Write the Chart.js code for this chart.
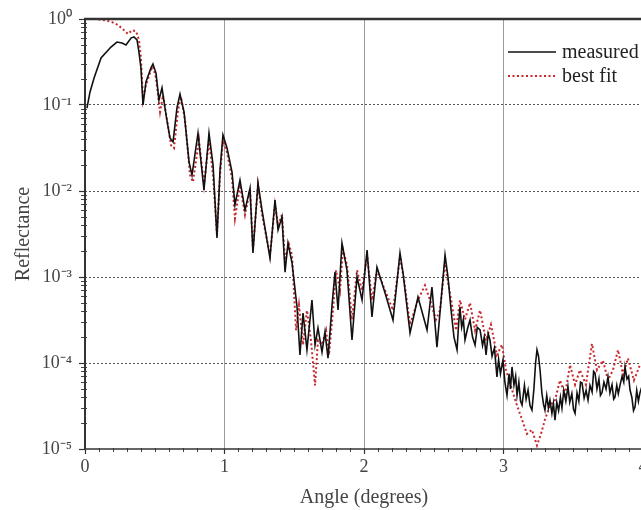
<!DOCTYPE html>
<html>
<head>
<meta charset="utf-8">
<script src="https://cdn.jsdelivr.net/npm/chart.js@4.4.1/dist/chart.umd.min.js"></script>
<style>
html,body{margin:0;padding:0;background:#fff;overflow:hidden;width:641px;height:510px;}
#wrap{position:relative;width:650px;height:510px;}
</style>
</head>
<body>
<div id="wrap"><canvas id="c" width="650" height="510"></canvas></div>
<script>
// Angle (degrees) and reflectance of the measured curve
const measuredAngle = [0.014,0.036,0.065,0.115,0.186,0.229,0.265,0.294,0.330,0.351,0.373,0.387,0.401,0.416,0.437,0.473,0.487,0.509,0.530,0.552,0.581,0.609,0.631,0.659,0.681,0.710,0.746,0.767,0.810,0.853,0.889,0.918,0.946,0.968,0.989,1.018,1.054,1.075,1.111,1.147,1.183,1.204,1.240,1.269,1.326,1.362,1.384,1.412,1.434,1.455,1.484,1.520,1.541,1.563,1.591,1.627,1.649,1.670,1.699,1.720,1.742,1.771,1.792,1.814,1.842,1.878,1.914,1.950,1.986,2.022,2.057,2.093,2.151,2.208,2.258,2.280,2.330,2.387,2.452,2.487,2.523,2.581,2.602,2.625,2.645,2.667,2.678,2.688,2.700,2.712,2.724,2.742,2.760,2.778,2.796,2.812,2.832,2.850,2.862,2.875,2.890,2.903,2.918,2.935,2.953,2.965,2.978,2.996,3.010,3.025,3.040,3.050,3.061,3.075,3.087,3.097,3.110,3.122,3.133,3.150,3.162,3.176,3.190,3.204,3.218,3.230,3.240,3.251,3.262,3.275,3.287,3.297,3.310,3.322,3.333,3.347,3.358,3.369,3.382,3.395,3.408,3.419,3.432,3.447,3.462,3.475,3.490,3.502,3.513,3.527,3.540,3.552,3.563,3.578,3.592,3.606,3.620,3.635,3.646,3.656,3.670,3.684,3.695,3.706,3.720,3.735,3.749,3.763,3.778,3.790,3.799,3.812,3.823,3.835,3.850,3.862,3.871,3.885,3.897,3.907,3.920,3.932,3.943,3.955,3.967,3.978,3.995];
const measuredValue = [0.092,0.142,0.206,0.352,0.472,0.54,0.526,0.50,0.60,0.62,0.57,0.41,0.27,0.10,0.185,0.27,0.30,0.235,0.114,0.158,0.0765,0.0413,0.0371,0.092,0.134,0.083,0.0217,0.0153,0.047,0.0103,0.047,0.020,0.00284,0.0175,0.0448,0.0316,0.0166,0.00687,0.0134,0.0060,0.0108,0.0019,0.0124,0.0060,0.00166,0.00785,0.00352,0.005,0.00114,0.00248,0.00146,0.000448,0.000124,0.00038,0.000142,0.00054,0.000162,0.000255,0.000134,0.000229,0.000114,0.000472,0.00114,0.000413,0.00248,0.0012,0.000185,0.001,0.00054,0.00206,0.000343,0.0013,0.00065,0.000316,0.0019,0.00111,0.000223,0.000585,0.000242,0.000765,0.000153,0.0018,0.001,0.00040,0.00020,0.000142,0.00028,0.000448,0.00026,0.00032,0.000185,0.00025,0.000316,0.00020,0.000162,0.00026,0.000242,0.00016,0.00020,0.000124,0.00022,0.000185,0.00012,0.00015,0.000069,0.00011,0.000075,0.000108,0.000060,0.000042,0.000075,0.000050,0.000090,0.000055,0.000070,0.000042,0.000060,0.000036,0.0000325,0.000055,0.000038,0.0000485,0.000032,0.0000284,0.000050,0.00010,0.000142,0.00012,0.000083,0.000045,0.000033,0.0000284,0.000042,0.000030,0.000037,0.000026,0.000034,0.0000217,0.000035,0.000028,0.000040,0.000030,0.000048,0.000036,0.000053,0.000035,0.000044,0.000029,0.000026,0.000045,0.000036,0.000060,0.0000585,0.000039,0.000048,0.000037,0.000055,0.000046,0.000080,0.0000765,0.000050,0.000065,0.000042,0.000045,0.000060,0.000050,0.000069,0.000045,0.000056,0.000038,0.000040,0.000055,0.000044,0.000055,0.000070,0.000060,0.000090,0.000065,0.000070,0.0000485,0.000040,0.000028,0.000031,0.000048,0.000036,0.000045,0.000055];

// Angle (degrees) and reflectance of the best fit curve
const fitAngle = [0.0,0.072,0.143,0.194,0.237,0.28,0.308,0.337,0.366,0.387,0.401,0.416,0.437,0.473,0.487,0.509,0.538,0.559,0.588,0.617,0.638,0.667,0.688,0.717,0.753,0.774,0.817,0.853,0.889,0.918,0.946,0.968,0.989,1.018,1.054,1.075,1.111,1.147,1.183,1.204,1.240,1.269,1.326,1.362,1.384,1.412,1.434,1.462,1.484,1.513,1.534,1.563,1.591,1.620,1.649,1.670,1.699,1.728,1.749,1.778,1.799,1.828,1.849,1.878,1.914,1.950,1.986,2.022,2.057,2.093,2.151,2.208,2.258,2.287,2.330,2.387,2.437,2.473,2.516,2.545,2.581,2.602,2.631,2.660,2.688,2.724,2.760,2.796,2.832,2.875,2.910,2.953,2.989,3.018,3.061,3.097,3.133,3.168,3.204,3.240,3.269,3.297,3.333,3.369,3.405,3.441,3.477,3.513,3.548,3.591,3.634,3.670,3.713,3.749,3.785,3.821,3.857,3.892,3.935,3.978];
const fitValue = [1.0,1.0,0.97,0.92,0.85,0.74,0.67,0.74,0.72,0.57,0.35,0.114,0.17,0.255,0.28,0.206,0.083,0.13,0.067,0.034,0.0315,0.087,0.124,0.067,0.0153,0.0127,0.039,0.0117,0.039,0.0153,0.0031,0.0153,0.039,0.028,0.0141,0.0048,0.0117,0.0053,0.0103,0.0021,0.0117,0.0053,0.0018,0.0069,0.0040,0.0053,0.00157,0.0024,0.0018,0.00024,0.00047,0.000163,0.00041,0.000183,0.000055,0.000183,0.000163,0.00024,0.000124,0.00041,0.0012,0.00070,0.0021,0.00138,0.00032,0.0012,0.0007,0.0018,0.00054,0.0012,0.0007,0.00041,0.0017,0.00093,0.00028,0.00054,0.00080,0.00054,0.00032,0.00041,0.0015,0.00088,0.00047,0.00024,0.00054,0.00032,0.0005,0.00024,0.00041,0.000183,0.00028,0.000124,0.000163,0.000083,0.000049,0.000032,0.000022,0.000015,0.0000167,0.000011,0.000015,0.000022,0.000032,0.000037,0.000063,0.000043,0.000095,0.000056,0.000083,0.000056,0.000167,0.000083,0.000107,0.000063,0.000083,0.000142,0.000073,0.000113,0.000063,0.000095];

const xTickValues = [0, 1, 2, 3, 4];
const yTickValues = [1e-5, 1e-4, 1e-3, 1e-2, 1e-1, 1e0];
const yTickLabels = ['10\u207B\u2075','10\u207B\u2074','10\u207B\u00B3','10\u207B\u00B2','10\u207B\u00B9','10\u2070'];
const seriesLabels = ['measured', 'best fit'];

const FONT = '"Liberation Serif", "Times New Roman", serif';

const decorPlugin = {
  id: 'decor',
  afterDraw(chart) {
    const ctx = chart.ctx;
    const ca = chart.chartArea;
    const xs = chart.scales.x, ys = chart.scales.y;
    ctx.save();
    ctx.setLineDash([]);
    // minor ticks on y axis
    ctx.strokeStyle = '#444';
    ctx.lineWidth = 1;
    for (let d = -5; d < 0; d++) {
      for (let m = 2; m <= 9; m++) {
        const py = Math.round(ys.getPixelForValue(m * Math.pow(10, d))) + 0.5;
        ctx.beginPath();
        ctx.moveTo(ca.left - 4, py);
        ctx.lineTo(ca.left + 2, py);
        ctx.stroke();
      }
    }
    // minor ticks on x axis
    for (let i = 1; i < 40; i++) {
      if (i % 10 === 0) continue;
      const px = Math.round(xs.getPixelForValue(i / 10)) + 0.5;
      ctx.beginPath();
      ctx.moveTo(px, ca.bottom - 1);
      ctx.lineTo(px, ca.bottom + 3);
      ctx.stroke();
    }
    // axis lines
    ctx.strokeStyle = '#333';
    ctx.lineWidth = 2;
    ctx.beginPath();
    ctx.moveTo(ca.left, ca.top);
    ctx.lineTo(ca.left, ca.bottom + 1);
    ctx.stroke();
    ctx.lineWidth = 1.6;
    ctx.beginPath();
    ctx.moveTo(ca.left, ca.bottom);
    ctx.lineTo(ca.right + 10, ca.bottom);
    ctx.stroke();
    // top frame line
    ctx.lineWidth = 2.5;
    ctx.beginPath();
    ctx.moveTo(ca.left - 1, ca.top);
    ctx.lineTo(ca.right + 10, ca.top);
    ctx.stroke();
    // legend
    const ds = chart.data.datasets;
    const lx = 508, ly = 52, gap = 24;
    ds.forEach((d, i) => {
      const y = ly + i * gap;
      ctx.strokeStyle = d.borderColor;
      ctx.lineWidth = d.borderWidth;
      ctx.setLineDash(d.borderDash || []);
      ctx.beginPath();
      ctx.moveTo(lx, y);
      ctx.lineTo(lx + 48, y);
      ctx.stroke();
      ctx.setLineDash([]);
      ctx.fillStyle = '#222';
      ctx.font = '20px ' + FONT;
      ctx.textBaseline = 'middle';
      ctx.textAlign = 'left';
      ctx.fillText(d.label, lx + 54, y + 1);
    });
    ctx.restore();
  }
};

new Chart(document.getElementById('c'), {
  type: 'line',
  data: {
    datasets: [
      {
        label: seriesLabels[0],
        data: measuredAngle.map((a, i) => ({x: a, y: measuredValue[i]})),
        borderColor: '#111',
        borderWidth: 1.6,
        pointRadius: 0,
        tension: 0,
        fill: false
      },
      {
        label: seriesLabels[1],
        data: fitAngle.map((a, i) => ({x: a, y: fitValue[i]})),
        borderColor: '#c8262b',
        borderWidth: 2,
        borderDash: [2, 2.5],
        pointRadius: 0,
        tension: 0,
        fill: false
      }
    ]
  },
  options: {
    responsive: false,
    animation: false,
    devicePixelRatio: 1,
    layout: { padding: { left: 0, top: 19, right: 7, bottom: 0 } },
    plugins: { legend: { display: false }, tooltip: { enabled: false } },
    scales: {
      x: {
        type: 'linear',
        min: 0, max: 4,
        afterBuildTicks: s => { s.ticks = xTickValues.map(v => ({value: v})); },
        afterFit: s => { s.height = 61; },
        grid: {
          color: ctx => (ctx.tick && (ctx.tick.value === 0 || ctx.tick.value === 4)) ? 'rgba(0,0,0,0)' : '#9a9a9a',
          lineWidth: 1,
          drawTicks: true,
          tickLength: 5,
          tickColor: '#333',
          tickWidth: 1.2
        },
        border: { display: false },
        ticks: {
          color: '#444',
          font: { family: FONT, size: 18 },
          padding: 2,
          maxRotation: 0,
          callback: v => String(v)
        },
        title: {
          display: true,
          text: 'Angle (degrees)',
          color: '#444',
          font: { family: FONT, size: 20 },
          padding: { top: 1, bottom: 0 }
        }
      },
      y: {
        type: 'logarithmic',
        min: 1e-5, max: 1,
        afterBuildTicks: s => { s.ticks = yTickValues.map(v => ({value: v})); },
        afterFit: s => { s.width = 85; },
        grid: {
          color: ctx => (ctx.tick && (ctx.tick.value === 1 || ctx.tick.value === 1e-5)) ? 'rgba(0,0,0,0)' : '#555',
          lineWidth: 1,
          drawTicks: true,
          tickLength: 6,
          tickColor: '#333',
          tickWidth: 1.2
        },
        border: { display: false, dash: [2, 2] },
        ticks: {
          color: '#444',
          font: { family: FONT, size: 18 },
          padding: 7,
          callback: (v) => {
            const i = yTickValues.findIndex(t => Math.abs(Math.log10(t) - Math.log10(v)) < 1e-6);
            return i >= 0 ? yTickLabels[i] : '';
          }
        },
        title: {
          display: true,
          text: 'Reflectance',
          color: '#444',
          font: { family: FONT, size: 20 },
          padding: { top: 12, bottom: 0 }
        }
      }
    }
  },
  plugins: [decorPlugin]
});
</script>
</body>
</html>
